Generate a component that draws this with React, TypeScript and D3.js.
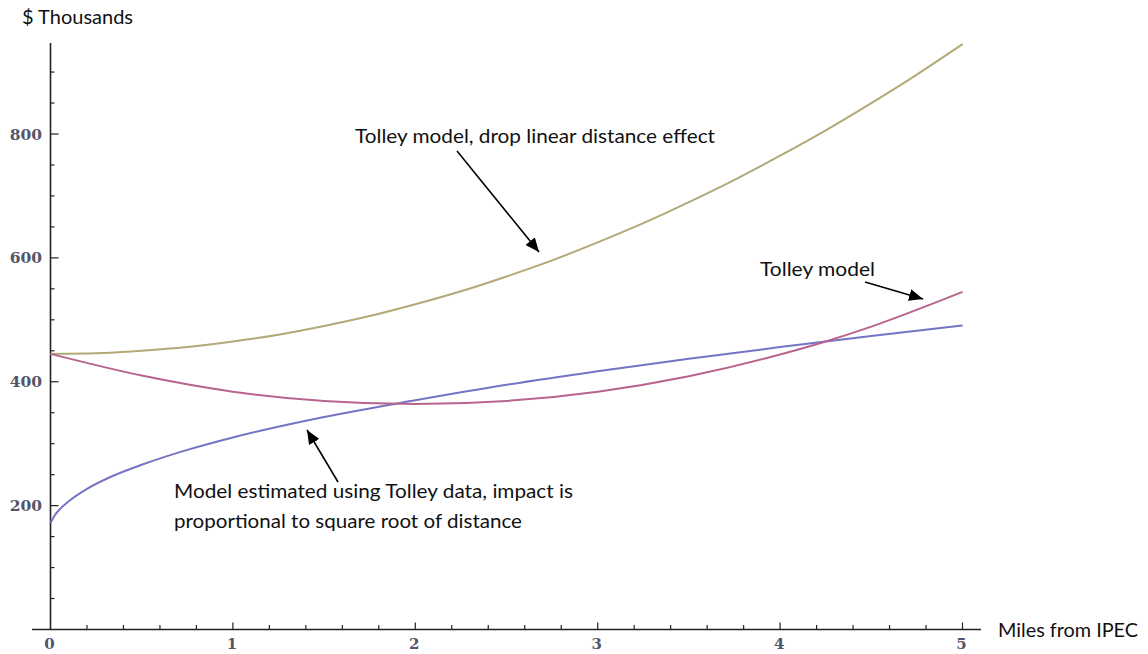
import { useRef, useEffect } from 'react';
import * as d3 from 'd3';

// readings: x in miles, y in $ thousands
const goldX = [0, 0.25, 0.5, 0.75, 1, 1.25, 1.5, 1.75, 2, 2.25, 2.5, 2.75, 3, 3.25, 3.5, 3.75, 4, 4.25, 4.5, 4.75, 5];
const goldY = [445, 446, 450, 456, 465, 476, 490, 506, 525, 546, 570, 596, 625, 656, 690, 726, 765, 806, 850, 896, 945];

const pinkX = [0, 0.5, 1, 1.5, 2, 2.5, 3, 3.5, 4, 4.25, 4.5, 5];
const pinkY = [445, 410, 384, 369, 364, 369, 384, 409, 444, 465, 489, 545];

const blueX = [0, 0.02, 0.05, 0.1, 0.2, 0.35, 0.5, 0.75, 1, 1.5, 2, 2.5, 3, 3.5, 4, 4.5, 5];
const blueY = [172, 183, 194, 207, 227, 249, 266, 290, 310, 343, 370, 395, 417, 437, 456, 474, 491];

const xTicks = [0, 1, 2, 3, 4, 5];
const yTicks = [200, 400, 600, 800];

const W = 1148;
const H = 654;

const Chart = () => {
  const ref = useRef(null);

  useEffect(() => {
    const svg = d3.select(ref.current);
    svg.selectAll('*').remove();

    const x = d3.scaleLinear().domain([0, 5]).range([50.5, 962.5]);
    const y = d3.scaleLinear().domain([0, 800]).range([629.5, 134]);

    svg.append('defs').append('marker')
      .attr('id', 'head')
      .attr('viewBox', '0 0 14 12')
      .attr('refX', 14)
      .attr('refY', 6)
      .attr('markerWidth', 14)
      .attr('markerHeight', 12)
      .attr('markerUnits', 'userSpaceOnUse')
      .attr('orient', 'auto')
      .append('path')
      .attr('d', 'M0,0L14,6L0,12Z')
      .attr('fill', '#000');

    // axes lines
    svg.append('line')
      .attr('x1', 32).attr('x2', 981)
      .attr('y1', y(0)).attr('y2', y(0))
      .attr('stroke', '#222').attr('stroke-width', 1.6);
    svg.append('line')
      .attr('x1', x(0)).attr('x2', x(0))
      .attr('y1', y(0)).attr('y2', 43)
      .attr('stroke', '#222').attr('stroke-width', 1.6);

    // y ticks
    const yMinor = d3.range(50, 950, 50);
    svg.append('g').selectAll('line')
      .data(yMinor)
      .enter().append('line')
      .attr('x1', x(0)).attr('x2', d => x(0) + (d % 200 === 0 ? 8 : 4))
      .attr('y1', d => y(d)).attr('y2', d => y(d))
      .attr('stroke', '#222').attr('stroke-width', 1.2);

    svg.append('g').selectAll('text')
      .data(yTicks)
      .enter().append('text')
      .attr('x', 42)
      .attr('y', d => y(d))
      .attr('dy', '0.36em')
      .attr('text-anchor', 'end')
      .attr('font-family', 'DejaVu Serif')
      .attr('font-weight', 'bold')
      .attr('font-size', 15.5)
      .attr('fill', '#55556a')
      .text(d => d);

    // x ticks
    const xMinor = d3.range(1, 26).map(i => i / 5);
    svg.append('g').selectAll('line')
      .data(xMinor)
      .enter().append('line')
      .attr('x1', d => x(d)).attr('x2', d => x(d))
      .attr('y1', y(0))
      .attr('y2', d => y(0) - (Math.abs(d - Math.round(d)) < 1e-6 ? 7 : 4.5))
      .attr('stroke', '#222').attr('stroke-width', 1.2);

    svg.append('g').selectAll('text')
      .data(xTicks)
      .enter().append('text')
      .attr('x', d => x(d) - 1)
      .attr('y', 649)
      .attr('text-anchor', 'middle')
      .attr('font-family', 'DejaVu Serif')
      .attr('font-weight', 'bold')
      .attr('font-size', 15)
      .attr('fill', '#55556a')
      .text(d => d);

    // curves
    const line = d3.line()
      .x(d => x(d[0]))
      .y(d => y(d[1]))
      .curve(d3.curveMonotoneX);

    const series = [
      { xs: goldX, ys: goldY, color: '#b3a977' },
      { xs: blueX, ys: blueY, color: '#7474c4' },
      { xs: pinkX, ys: pinkY, color: '#b8648f' },
    ];
    svg.append('g').selectAll('path')
      .data(series)
      .enter().append('path')
      .attr('d', s => line(s.xs.map((v, i) => [v, s.ys[i]])))
      .attr('fill', 'none')
      .attr('stroke', s => s.color)
      .attr('stroke-width', 2);

    // annotations
    const font = 'Lato';
    const txt = (tx, ty, t, len) => svg.append('text')
      .attr('x', tx).attr('y', ty)
      .attr('font-family', font)
      .attr('font-size', 20)
      .attr('fill', '#111')
      .attr('textLength', len)
      .attr('lengthAdjust', 'spacingAndGlyphs')
      .text(t);

    txt(22, 24, '$ Thousands', 111);
    txt(998, 637, 'Miles from IPEC', 140);
    txt(355, 143, 'Tolley model, drop linear distance effect', 360);
    txt(760, 276, 'Tolley model', 115);
    txt(174, 498, 'Model estimated using Tolley data, impact is', 399);
    txt(174, 528, 'proportional to square root of distance', 348);

    const arrows = [
      [457, 151, 539, 252],
      [865, 282, 923, 299],
      [338, 482, 307, 430],
    ];
    svg.append('g').selectAll('line')
      .data(arrows)
      .enter().append('line')
      .attr('x1', d => d[0]).attr('y1', d => d[1])
      .attr('x2', d => d[2]).attr('y2', d => d[3])
      .attr('stroke', '#000')
      .attr('stroke-width', 1.6)
      .attr('marker-end', 'url(#head)');
  }, []);

  return (
    <svg ref={ref} width={W} height={H} style={{ position: 'absolute', left: 0, top: 0, background: '#fff' }}></svg>
  );
};

export default function App() {
  return <Chart />;
}
